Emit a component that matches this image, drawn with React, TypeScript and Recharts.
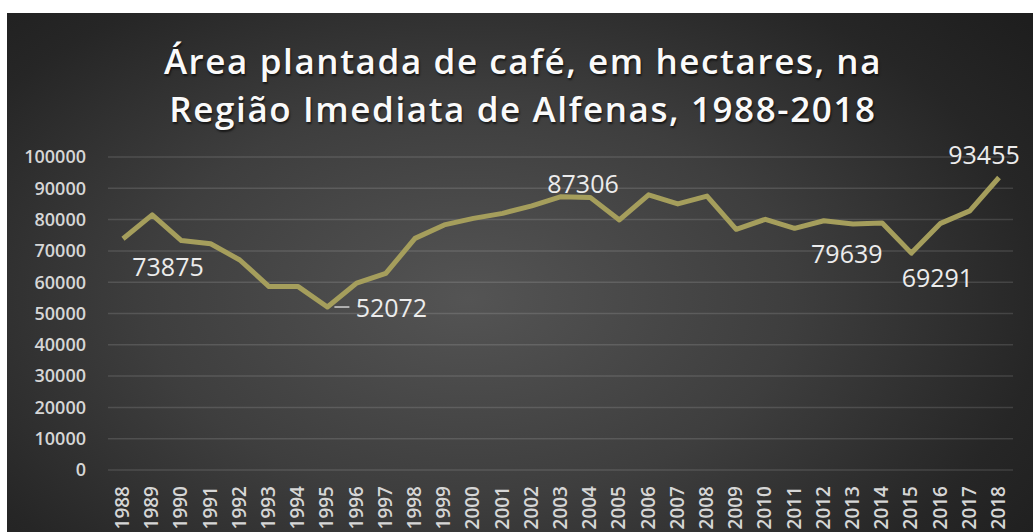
import React from "react";
import { CartesianGrid, LabelList, Line, LineChart, XAxis, YAxis } from "recharts";

const years = [
  "1988", "1989", "1990", "1991", "1992", "1993", "1994", "1995", "1996", "1997", "1998",
  "1999", "2000", "2001", "2002", "2003", "2004", "2005", "2006", "2007", "2008", "2009",
  "2010", "2011", "2012", "2013", "2014", "2015", "2016", "2017", "2018",
];

const areaHa = [
  73875, 81500, 73300, 72300, 67100, 58600, 58600, 52072, 59700, 62800, 74000,
  78300, 80400, 82000, 84400, 87306, 87100, 79900, 87900, 85000, 87500, 76900,
  80100, 77200, 79639, 78600, 78900, 69291, 78800, 82800, 93455,
];

const yTicks = [0, 10000, 20000, 30000, 40000, 50000, 60000, 70000, 80000, 90000, 100000];

// which points get a value label, and where it sits relative to the point
const labelSpots: Record<number, { dx: number; dy: number; leader?: boolean }> = {
  0: { dx: 45, dy: 27 },
  7: { dx: 64, dy: 0, leader: true },
  15: { dx: 22, dy: -14 },
  24: { dx: 23, dy: 32 },
  27: { dx: 26, dy: 24 },
  30: { dx: -15, dy: -23 },
};

const data = years.map((year, i) => ({ year, area: areaHa[i] }));

const FONT = "'Open Sans', sans-serif";

function YearTick({ x, y, payload }: any) {
  return (
    <text
      x={x}
      y={y}
      transform={`rotate(-90, ${x}, ${y})`}
      dx={-8}
      dy={6}
      textAnchor="end"
      fill="#d6d6d6"
      fontSize={19}
      fontWeight={600}
      fontFamily={FONT}
    >
      {payload.value}
    </text>
  );
}

function ValueLabel(props: any) {
  const { x, y, index, value } = props;
  const spot = labelSpots[index];
  if (!spot) return null;
  return (
    <g>
      {spot.leader && <line x1={x + 7} y1={y} x2={x + 22} y2={y} stroke="#d0d0d0" strokeWidth={1.5} />}
      <text
        x={x + spot.dx}
        y={y + spot.dy}
        textAnchor="middle"
        dominantBaseline="central"
        fill="#ececec"
        fontSize={25}
        fontFamily={FONT}
      >
        {value}
      </text>
    </g>
  );
}

export default function App() {
  return (
    <div style={{ position: "absolute", left: 0, top: 0, width: 1033, height: 532, background: "#fff", overflow: "hidden" }}>
      <div
        style={{
          position: "absolute",
          left: 7,
          top: 13,
          width: 1026,
          height: 519,
          background: "radial-gradient(ellipse 70% 85% at 45% 55%, #545454 0%, #3e3e3e 45%, #262626 80%, #1e1e1e 100%)",
        }}
      >
        <div
          style={{
            position: "absolute",
            left: 0,
            top: 24,
            width: 1032,
            textAlign: "center",
            color: "#fafafa",
            fontFamily: FONT,
            fontWeight: 600,
            fontSize: 35,
            letterSpacing: 1.6,
            lineHeight: "48px",
            textShadow: "1px 2px 2px rgba(0,0,0,0.6)",
          }}
        >
          <div>Área plantada de café, em hectares, na</div>
          <div>Região Imediata de Alfenas, 1988-2018</div>
        </div>
        <LineChart width={1026} height={519} data={data} margin={{ top: 144, right: 20, left: 0, bottom: 0 }}>
          <CartesianGrid vertical={false} stroke="rgba(255,255,255,0.13)" strokeWidth={1.5} />
          <XAxis
            dataKey="year"
            interval={0}
            height={62}
            padding={{ left: 15, right: 14 }}
            axisLine={false}
            tickLine={false}
            tick={<YearTick />}
          />
          <YAxis
            domain={[0, 100000]}
            ticks={yTicks}
            width={101}
            axisLine={false}
            tickLine={false}
            tickMargin={16}
            tick={{ fill: "#d6d6d6", fontSize: 18, fontWeight: 600, fontFamily: FONT }}
          />
          <Line
            type="linear"
            dataKey="area"
            stroke="#a59e5c"
            strokeWidth={5}
            strokeLinejoin="round"
            dot={false}
            isAnimationActive={false}
          >
            <LabelList dataKey="area" content={<ValueLabel />} />
          </Line>
        </LineChart>
      </div>
    </div>
  );
}
